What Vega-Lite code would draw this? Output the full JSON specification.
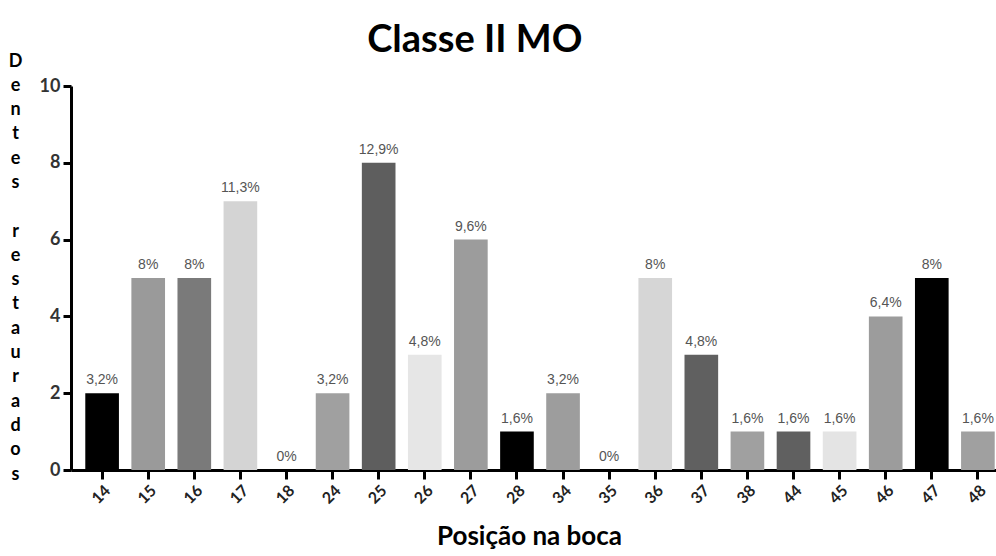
{
  "$schema": "https://vega.github.io/schema/vega-lite/v6.json",
  "autosize": "none",
  "width": 925,
  "height": 384,
  "padding": {"left": 71, "top": 86, "right": 0, "bottom": 86},
  "background": "white",
  "config": {
    "view": {"stroke": null},
    "font": "Lato"
  },
  "title": {
    "text": "Classe II MO",
    "font": "Lato",
    "fontSize": 38,
    "fontWeight": "bold",
    "color": "#000000",
    "anchor": "start",
    "frame": "bounds",
    "dx": 359,
    "dy": 8,
    "offset": 0
  },
  "data": {
    "values": [
      {"dente": "14", "n": 2, "rotulo": "3,2%"},
      {"dente": "15", "n": 5, "rotulo": "8%"},
      {"dente": "16", "n": 5, "rotulo": "8%"},
      {"dente": "17", "n": 7, "rotulo": "11,3%"},
      {"dente": "18", "n": 0, "rotulo": "0%"},
      {"dente": "24", "n": 2, "rotulo": "3,2%"},
      {"dente": "25", "n": 8, "rotulo": "12,9%"},
      {"dente": "26", "n": 3, "rotulo": "4,8%"},
      {"dente": "27", "n": 6, "rotulo": "9,6%"},
      {"dente": "28", "n": 1, "rotulo": "1,6%"},
      {"dente": "34", "n": 2, "rotulo": "3,2%"},
      {"dente": "35", "n": 0, "rotulo": "0%"},
      {"dente": "36", "n": 5, "rotulo": "8%"},
      {"dente": "37", "n": 3, "rotulo": "4,8%"},
      {"dente": "38", "n": 1, "rotulo": "1,6%"},
      {"dente": "44", "n": 1, "rotulo": "1,6%"},
      {"dente": "45", "n": 1, "rotulo": "1,6%"},
      {"dente": "46", "n": 4, "rotulo": "6,4%"},
      {"dente": "47", "n": 5, "rotulo": "8%"},
      {"dente": "48", "n": 1, "rotulo": "1,6%"}
    ]
  },
  "encoding": {
    "x": {
      "field": "dente",
      "type": "ordinal",
      "sort": null,
      "scale": {"range": [0, 938], "paddingInner": 0.27, "paddingOuter": 0.31},
      "axis": {
        "title": "Posição na boca",
        "titleFont": "Lato",
        "titleFontSize": 26,
        "titleFontWeight": "bold",
        "titleColor": "#000000",
        "titleX": 458,
        "titleY": 74,
        "titleAlign": "center",
        "titleBaseline": "alphabetic",
        "labelAngle": -45,
        "labelFont": "Lato",
        "labelFontSize": 16,
        "labelFontWeight": "bold",
        "labelColor": "#222222",
        "labelPadding": 3,
        "domainColor": "#000000",
        "domainWidth": 3,
        "tickColor": "#000000",
        "tickWidth": 3,
        "tickSize": 9,
        "grid": false
      }
    }
  },
  "resolve": {"axis": {"y": "independent"}},
  "layer": [
    {
      "mark": {"type": "bar"},
      "encoding": {
        "y": {
          "field": "n",
          "type": "quantitative",
          "scale": {"domain": [0, 10], "nice": false},
          "axis": {
            "title": ["D", "e", "n", "t", "e", "s"],
            "titleAngle": 0,
            "titleFont": "Lato",
            "titleFontSize": 18,
            "titleFontWeight": "bold",
            "titleColor": "#000000",
            "titleLineHeight": 24.3,
            "titleAlign": "center",
            "titleBaseline": "top",
            "titleX": -56,
            "titleY": -34,
            "values": [0, 2, 4, 6, 8, 10],
            "labelFont": "Lato",
            "labelFontSize": 18,
            "labelFontWeight": "bold",
            "labelColor": "#333333",
            "labelPadding": 3,
            "domainColor": "#000000",
            "domainWidth": 3,
            "tickColor": "#000000",
            "tickWidth": 3,
            "tickSize": 8,
            "grid": false
          }
        },
        "color": {
          "field": "dente",
          "type": "nominal",
          "legend": null,
          "scale": {
            "domain": ["14", "15", "16", "17", "18", "24", "25", "26", "27", "28", "34", "35", "36", "37", "38", "44", "45", "46", "47", "48"],
            "range": ["#000000", "#9a9a9a", "#7a7a7a", "#d4d4d4", "#ffffff", "#a0a0a0", "#5e5e5e", "#e6e6e6", "#9c9c9c", "#000000", "#9d9d9d", "#ffffff", "#d6d6d6", "#606060", "#a0a0a0", "#606060", "#e4e4e4", "#9c9c9c", "#000000", "#a0a0a0"]
          }
        }
      }
    },
    {
      "mark": {
        "type": "text",
        "baseline": "bottom",
        "dy": -6,
        "font": "Liberation Sans",
        "fontSize": 14,
        "color": "#555555"
      },
      "encoding": {
        "y": {
          "field": "n",
          "type": "quantitative",
          "axis": {
            "orient": "left",
            "title": ["r", "e", "s", "t", "a", "u", "r", "a", "d", "o", "s"],
            "titleAngle": 0,
            "titleFont": "Lato",
            "titleFontSize": 18,
            "titleFontWeight": "bold",
            "titleColor": "#000000",
            "titleLineHeight": 24.3,
            "titleAlign": "center",
            "titleBaseline": "top",
            "titleX": -56,
            "titleY": 136,
            "labels": false,
            "ticks": false,
            "domain": false,
            "grid": false
          }
        },
        "text": {"field": "rotulo", "type": "nominal"}
      }
    }
  ]
}
